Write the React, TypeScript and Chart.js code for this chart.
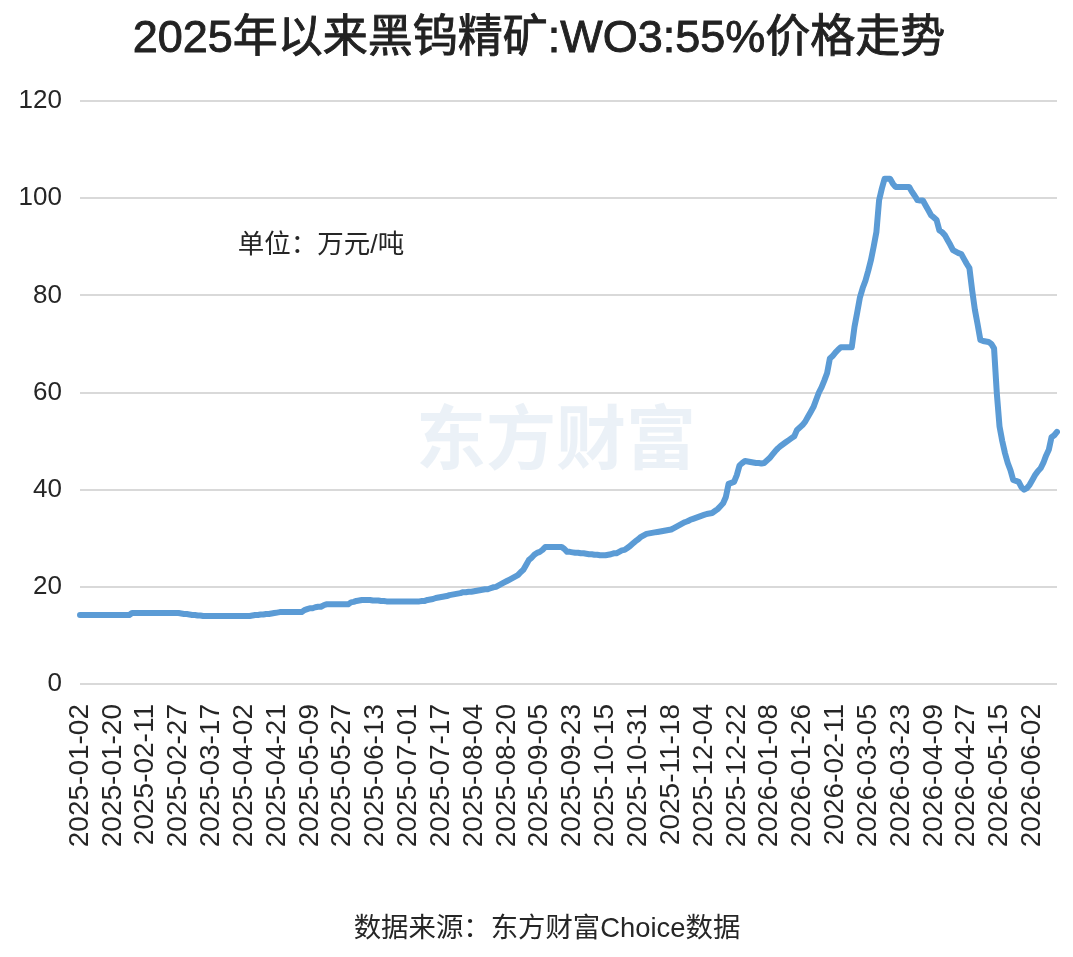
import React, { useEffect, useRef } from "react";
import { Chart, registerables } from "chart.js";

Chart.register(...registerables);

const TITLE = "2025年以来黑钨精矿:WO3:55%价格走势";
const UNIT_NOTE = "单位：万元/吨";
const SOURCE_NOTE = "数据来源：东方财富Choice数据";
const WATERMARK = "东方财富";

// one tick label every 12 trading days
const tickLabels = [
  "2025-01-02", "2025-01-20", "2025-02-11", "2025-02-27", "2025-03-17",
  "2025-04-02", "2025-04-21", "2025-05-09", "2025-05-27", "2025-06-13",
  "2025-07-01", "2025-07-17", "2025-08-04", "2025-08-20", "2025-09-05",
  "2025-09-23", "2025-10-15", "2025-10-31", "2025-11-18", "2025-12-04",
  "2025-12-22", "2026-01-08", "2026-01-26", "2026-02-11", "2026-03-05",
  "2026-03-23", "2026-04-09", "2026-04-27", "2026-05-15", "2026-06-02",
];
const TICK_STEP = 12;

const yTicks = [0, 20, 40, 60, 80, 100, 120];

// price, 万元/吨, one value per trading day
const prices = [
  // 0-18
  14.2, 14.2, 14.2, 14.2, 14.2, 14.2, 14.2, 14.2, 14.2, 14.2,
  14.2, 14.2, 14.2, 14.2, 14.2, 14.2, 14.2, 14.2, 14.2,
  // 19-36
  14.6, 14.6, 14.6, 14.6, 14.6, 14.6, 14.6, 14.6, 14.6, 14.6,
  14.6, 14.6, 14.6, 14.6, 14.6, 14.6, 14.6, 14.6,
  // 37-44
  14.5, 14.4, 14.4, 14.3, 14.2, 14.2, 14.1, 14.1,
  // 45-62
  14.0, 14.0, 14.0, 14.0, 14.0, 14.0, 14.0, 14.0, 14.0, 14.0,
  14.0, 14.0, 14.0, 14.0, 14.0, 14.0, 14.0, 14.0,
  // 63-69
  14.1, 14.2, 14.2, 14.3, 14.3, 14.4, 14.4,
  // 70-75
  14.5, 14.6, 14.7, 14.8, 14.8, 14.8,
  // 76-84
  14.8, 14.8, 14.8, 14.8, 14.8, 14.8, 15.2, 15.4, 15.6,
  // 85-89
  15.6, 15.8, 15.9, 15.9, 16.2,
  // 90-98
  16.4, 16.4, 16.4, 16.4, 16.4, 16.4, 16.4, 16.4, 16.4,
  // 99-103
  16.8, 16.9, 17.1, 17.2, 17.3,
  // 104-108
  17.3, 17.3, 17.3, 17.2, 17.2,
  // 109-126
  17.2, 17.1, 17.1, 17.0, 17.0, 17.0, 17.0, 17.0, 17.0, 17.0,
  17.0, 17.0, 17.0, 17.0, 17.0, 17.0, 17.1, 17.1,
  // 127-131
  17.3, 17.4, 17.5, 17.7, 17.8,
  // 132-138
  17.9, 18.0, 18.1, 18.3, 18.4, 18.5, 18.6,
  // 139-148
  18.7, 18.9, 18.9, 19.0, 19.0, 19.1, 19.2, 19.3, 19.4, 19.5,
  // 149-151
  19.5, 19.7, 19.9,
  // 152-155
  20.0, 20.3, 20.6, 20.9,
  // 156-159
  21.2, 21.5, 21.8, 22.1,
  // 160-163
  22.4, 23.0, 23.5, 24.5,
  // 164-167
  25.5, 26.0, 26.6, 27.0,
  // 168-175
  27.2, 27.6, 28.2, 28.2, 28.2, 28.2, 28.2, 28.2,
  // 176-177
  28.2, 27.8,
  // 178-183
  27.2, 27.2, 27.1, 27.0, 27.0, 26.9,
  // 184-189
  26.9, 26.8, 26.7, 26.7, 26.6, 26.6,
  // 190-194
  26.5, 26.5, 26.5, 26.6, 26.7,
  // 195-199
  26.9, 26.9, 27.2, 27.5, 27.6,
  // 200-206
  28.0, 28.4, 28.9, 29.4, 29.8, 30.3, 30.6,
  // 207-215
  30.9, 31.0, 31.1, 31.2, 31.3, 31.4, 31.5, 31.6, 31.7,
  // 216-223
  31.8, 32.1, 32.4, 32.7, 33.0, 33.3, 33.5, 33.8,
  // 224-230
  34.0, 34.2, 34.4, 34.6, 34.8, 35.0, 35.1,
  // 231-236
  35.2, 35.6, 36.0, 36.6, 37.2, 38.5,
  // 237-240
  41.2, 41.4, 41.6, 43.0,
  // 241-246
  45.0, 45.5, 45.9, 45.8, 45.7, 45.6,
  // 247-251
  45.5, 45.5, 45.4, 45.5, 46.0,
  // 252-257
  46.5, 47.2, 47.9, 48.5, 49.0, 49.4,
  // 258-263
  49.8, 50.2, 50.6, 51.0, 52.3, 52.8,
  // 264-270
  53.3, 54.0, 55.0, 56.0, 57.0, 58.5, 60.0,
  // 271-277
  61.1, 62.5, 64.0, 67.0, 67.5, 68.2, 68.8,
  // 278-284
  69.3, 69.3, 69.3, 69.3, 69.3, 73.5, 76.5,
  // 285-291
  79.6, 81.5, 83.0, 85.0, 87.2, 90.0, 93.0,
  // 292-297
  99.6, 102.0, 104.0, 104.0, 104.0, 103.0,
  // 298-305
  102.3, 102.3, 102.3, 102.3, 102.3, 102.3, 101.3, 100.5,
  // 306-312
  99.6, 99.5, 99.5, 98.5, 97.5, 96.5, 96.0,
  // 313-318
  95.5, 93.4, 93.0, 92.4, 91.4, 90.4,
  // 319-324
  89.3, 89.0, 88.7, 88.5, 87.5, 86.5,
  // 325-331
  85.6, 81.0, 77.0, 74.0, 70.8, 70.6, 70.5,
  // 332-337
  70.4, 70.0, 69.1, 59.9, 53.0, 50.0,
  // 338-344
  47.5, 45.5, 44.0, 42.0, 41.8, 41.6, 40.5,
  // 345-350
  40.0, 40.3, 41.0, 42.0, 43.0, 43.8,
  // 351-357
  44.4, 45.5, 47.0, 48.2, 50.8, 51.2, 51.9,
];

const MIXED = '"Liberation Sans", "Noto Sans CJK SC", sans-serif';
const CJK = '"Noto Sans CJK SC", "Noto Sans", sans-serif';
const LATIN = '"Liberation Sans", Arial, sans-serif';

const textPlugin = {
  id: "texts",
  beforeDatasetsDraw(chart: any) {
    const ctx = chart.ctx;
    ctx.save();
    ctx.font = `bold 70px ${CJK}`;
    ctx.fillStyle = "rgba(222, 231, 241, 0.6)";
    ctx.textAlign = "center";
    ctx.textBaseline = "middle";
    ctx.fillText(WATERMARK, 556, 437);
    ctx.restore();
  },
  afterDraw(chart: any) {
    const ctx = chart.ctx;
    ctx.save();
    ctx.textAlign = "center";
    ctx.textBaseline = "middle";
    ctx.fillStyle = "#222222";
    ctx.strokeStyle = "#222222";
    ctx.lineWidth = 0.9;
    ctx.font = `45px ${MIXED}`;
    ctx.fillText(TITLE, 539, 40);
    ctx.strokeText(TITLE, 539, 40);
    ctx.fillStyle = "#262626";
    ctx.font = `26.5px ${MIXED}`;
    ctx.fillText(UNIT_NOTE, 321, 246);
    ctx.font = `27.4px ${MIXED}`;
    ctx.fillText(SOURCE_NOTE, 547, 929);
    ctx.restore();
  },
};

export default function App() {
  const ref = useRef<HTMLCanvasElement | null>(null);

  useEffect(() => {
    document.body.style.margin = "0";
    const canvas = ref.current;
    if (!canvas) return;
    const labels = prices.map((_, i) =>
      i % TICK_STEP === 0 && tickLabels[i / TICK_STEP] ? tickLabels[i / TICK_STEP] : ""
    );
    const chart = new Chart(canvas, {
      type: "line",
      data: {
        labels,
        datasets: [
          {
            data: prices,
            borderColor: "#5b9bd5",
            borderWidth: 6,
            pointRadius: 0,
            tension: 0,
            borderJoinStyle: "round",
            borderCapStyle: "round",
            fill: false,
          },
        ],
      },
      options: {
        responsive: false,
        animation: false,
        devicePixelRatio: 1,
        layout: { padding: { top: 101, right: 16, bottom: 0, left: 0 } },
        plugins: {
          legend: { display: false },
          title: { display: false },
          tooltip: { enabled: false },
        },
        scales: {
          x: {
            type: "category",
            offset: false,
            grid: { display: false },
            border: { display: false },
            ticks: {
              autoSkip: false,
              minRotation: 90,
              maxRotation: 90,
              padding: 12,
              color: "#262626",
              font: { family: LATIN, size: 28 },
              callback: (_v: any, i: number) => (labels[i] ? labels[i] : null),
            },
            afterFit: (scale: any) => {
              scale.height = 273;
              scale.paddingLeft = 0;
              scale.paddingRight = 0;
            },
          },
          y: {
            min: 0,
            max: 120,
            afterBuildTicks: (scale: any) => {
              scale.ticks = yTicks.map((v) => ({ value: v }));
            },
            grid: { color: "#d9d9d9", lineWidth: 2, drawTicks: false },
            border: { display: false },
            ticks: {
              padding: 18,
              color: "#262626",
              font: { family: LATIN, size: 26 },
            },
            afterFit: (scale: any) => {
              scale.width = 80;
              scale.paddingTop = 0;
              scale.paddingBottom = 0;
            },
          },
        },
      },
      plugins: [textPlugin],
    });
    return () => chart.destroy();
  }, []);

  return (
    <div style={{ width: 1073, height: 957, position: "relative" }}>
      <canvas ref={ref} width={1073} height={957} style={{ display: "block" }} />
    </div>
  );
}
